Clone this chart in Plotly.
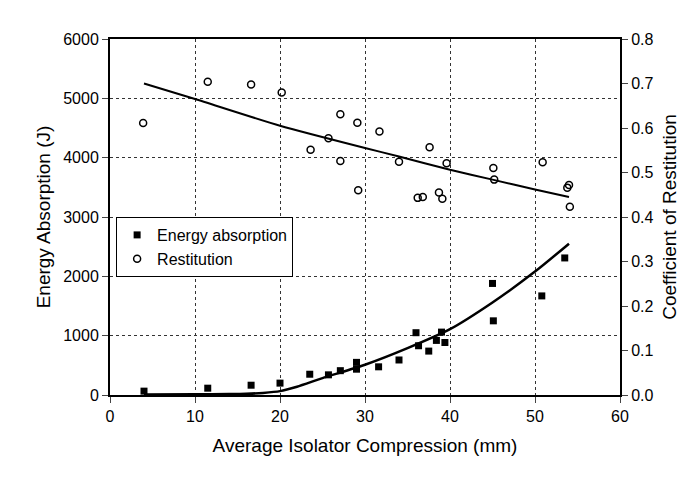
import plotly.graph_objects as go

# datos
ea_x = [4, 11.5, 16.6, 20, 23.5, 25.7, 27.1, 29, 29, 31.6, 34, 36, 36.3, 37.5, 38.4, 39, 39.4, 45, 45.1, 50.8, 53.5]
ea_y = [65, 115, 165, 200, 350, 340, 410, 550, 435, 475, 590, 1050, 830, 740, 920, 1060, 885, 1880, 1250, 1670, 2310]

ea_fit_x = [4, 10, 14, 16, 18, 20, 22, 25, 30, 35, 40, 45, 50, 54]
ea_fit_y = [10, 12, 15, 20, 35, 65, 140, 285, 510, 790, 1110, 1560, 2080, 2550]

res_x = [3.9, 11.5, 16.6, 20.2, 27.1, 29.1, 31.7, 25.7, 23.6, 27.1, 29.2, 34, 37.6, 39.6,
         36.2, 36.8, 38.7, 39.1, 45.1, 45.2, 50.9, 53.8, 54.0, 54.1]
res_y = [0.611, 0.704, 0.698, 0.680, 0.631, 0.612, 0.592, 0.577, 0.551, 0.526, 0.460, 0.524, 0.557, 0.521,
         0.443, 0.445, 0.455, 0.441, 0.510, 0.484, 0.523, 0.466, 0.472, 0.423]

res_fit_x = [4, 10, 20, 30, 34, 40, 45, 50, 54]
res_fit_y = [0.70, 0.665, 0.605, 0.555, 0.536, 0.506, 0.484, 0.462, 0.445]

fuente = "Liberation Sans, Arial, sans-serif"

fig = go.Figure()
fig.add_trace(go.Scatter(x=ea_x, y=ea_y, mode="markers", name="Energy absorption",
                         marker=dict(symbol="square", size=7, color="black")))
fig.add_trace(go.Scatter(x=res_x, y=res_y, mode="markers", name="Restitution", yaxis="y2",
                         marker=dict(symbol="circle-open", size=7, color="black", line=dict(width=1.5))))
fig.add_trace(go.Scatter(x=ea_fit_x, y=ea_fit_y, mode="lines", showlegend=False,
                         line=dict(color="black", width=2.5, shape="spline", smoothing=0.6)))
fig.add_trace(go.Scatter(x=res_fit_x, y=res_fit_y, mode="lines", showlegend=False, yaxis="y2",
                         line=dict(color="black", width=2, shape="spline", smoothing=0.6)))

fig.update_layout(
    width=697, height=481,
    margin=dict(l=102, r=85, t=31, b=94),
    paper_bgcolor="white", plot_bgcolor="white",
    font=dict(family=fuente, size=16, color="black"),
    xaxis=dict(range=[0, 60], dtick=10, showgrid=True, gridcolor="#333", griddash="dot", gridwidth=1,
               showline=True, linecolor="black", linewidth=2, mirror=True, ticks="outside", ticklen=6,
               zeroline=False, title=dict(text="Average Isolator Compression (mm)", standoff=14)),
    yaxis=dict(range=[0, 6000], dtick=1000, showgrid=True, gridcolor="#333", griddash="dot", gridwidth=1,
               showline=True, linecolor="black", linewidth=2, ticks="outside", ticklen=6,
               zeroline=False, title=dict(text="Energy Absorption (J)", standoff=8)),
    yaxis2=dict(range=[0, 0.8], dtick=0.1, tickformat=".1f", overlaying="y", side="right",
                showgrid=False, showline=True, linecolor="black", linewidth=2, ticks="outside", ticklen=6,
                zeroline=False, title=dict(text="Coefficient of Restitution", standoff=10)),
    legend=dict(x=0.012, y=0.5, xanchor="left", yanchor="top", bgcolor="white",
                bordercolor="black", borderwidth=1, font=dict(size=16), tracegroupgap=0,
                itemwidth=30),
)

fig.write_html("out.html")
